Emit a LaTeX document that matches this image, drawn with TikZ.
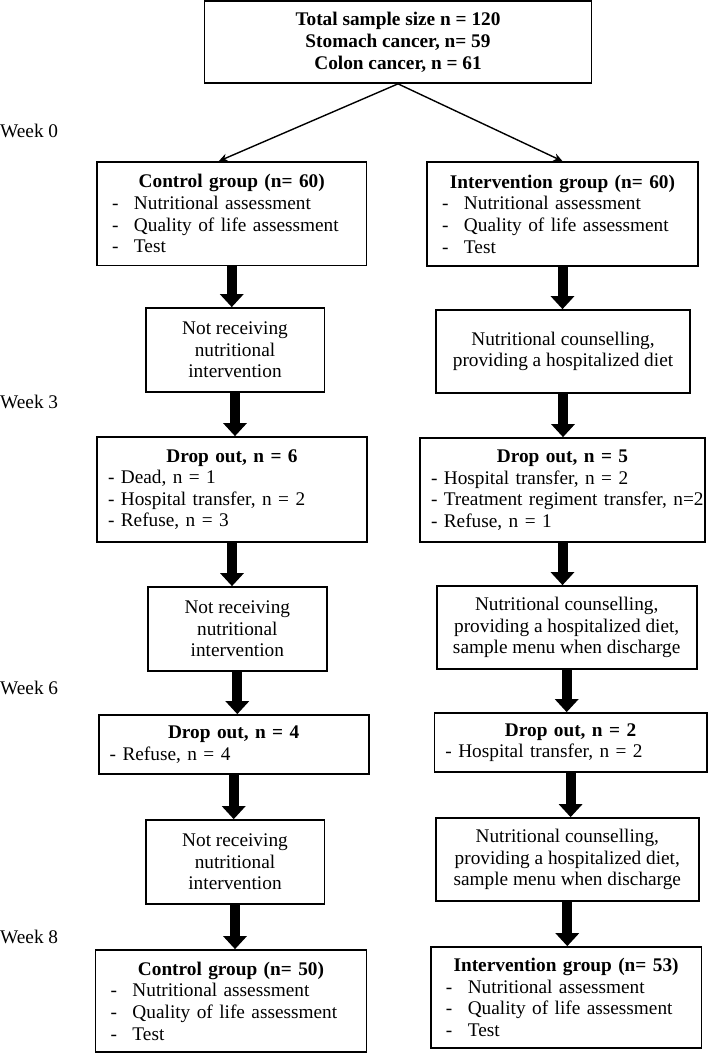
\documentclass[tikz,border=0pt]{standalone}
\usepackage{fontspec}
\setmainfont{Liberation Serif}
\usetikzlibrary{arrows.meta}
\newcommand{\btitle}[1]{{\noindent\centering\bfseries #1\par}}
\newcommand{\bitem}[1]{{\leftskip=15pt\noindent\makebox[22pt][l]{-}#1\par}}
\newcommand{\ditem}[1]{{\leftskip=11pt\noindent - #1\par}}
\tikzset{
  basebox/.style={draw, line width=1.7pt, inner sep=0pt, font=\fontsize{19.3}{21.6}\selectfont},
  listbox/.style={basebox, text width=#1pt, minimum width=#1pt},
  cbox/.style={basebox, align=center, minimum width=#1pt},
  thinarrow/.style={line width=1.4pt, -{Stealth[length=9pt,width=8pt]}},
  fatarrow/.style={line width=10pt, -{Triangle[length=13pt,width=23pt]}},
  weeklabel/.style={anchor=west, inner sep=0pt, font=\fontsize{19.3}{21.6}\selectfont},
}
\begin{document}
\begin{tikzpicture}[x=1pt, y=-1pt]
\useasboundingbox (0,0) rectangle (709,1054);

% top box
\node[cbox=387, minimum height=82pt, font=\fontsize{19.3}{21.8}\selectfont\bfseries] (top) at (398,42)
  {Total sample size n = 120\\Stomach cancer, n= 59\\Colon cancer, n = 61};

% week labels
\node[weeklabel] (w0) at (0,131) {Week 0};
\node[weeklabel] (w3) at (0,402) {Week 3};
\node[weeklabel] (w6) at (0,688) {Week 6};
\node[weeklabel] (w8) at (0,937) {Week 8};

% week 0 groups
\node[listbox=269.5, minimum height=103.5pt] (ctrl0) at (231.75,213.75)
  {\btitle{Control group (n= 60)}\bitem{Nutritional assessment}\bitem{Quality of life assessment}\bitem{Test}};
\node[listbox=271, minimum height=104pt] (int0) at (562.5,214)
  {\btitle{Intervention group (n= 60)}\bitem{Nutritional assessment}\bitem{Quality of life assessment}\bitem{Test}};

% first interventions
\node[cbox=178.7, minimum height=84pt] (nr1) at (235,350)
  {Not receiving\\nutritional\\intervention};
\node[cbox=254, minimum height=83pt] (nc1) at (563,351.5)
  {Nutritional counselling,\\providing a hospitalized diet};

% drop out week 3
\node[listbox=270, minimum height=105pt] (dl1) at (232,489.5)
  {\btitle{Drop out, n = 6}\ditem{Dead, n = 1}\ditem{Hospital transfer, n = 2}\ditem{Refuse, n = 3}};
\node[listbox=285, minimum height=104pt] (dr1) at (562.5,490)
  {\btitle{Drop out, n = 5}\ditem{Hospital transfer, n = 2}\ditem{Treatment regiment transfer, n=2}\ditem{Refuse, n = 1}};

% second interventions
\node[cbox=178.7, minimum height=84pt] (nr2) at (237.3,629)
  {Not receiving\\nutritional\\intervention};
\node[cbox=260, minimum height=83pt] (nc2) at (566.7,627.5)
  {Nutritional counselling,\\providing a hospitalized diet,\\sample menu when discharge};

% drop out week 6
\node[listbox=270, minimum height=59pt] (dl2) at (233.7,744.5)
  {\btitle{Drop out, n = 4}\ditem{Refuse, n = 4}};
\node[listbox=272.4, minimum height=59pt] (dr2) at (570.6,742.5)
  {\btitle{Drop out, n = 2}\ditem{Hospital transfer, n = 2}};

% third interventions
\node[cbox=178.7, minimum height=84pt] (nr3) at (235,862)
  {Not receiving\\nutritional\\intervention};
\node[cbox=263.3, minimum height=83pt] (nc3) at (567.3,859.5)
  {Nutritional counselling,\\providing a hospitalized diet,\\sample menu when discharge};

% final groups
\node[listbox=271, minimum height=102pt] (fl) at (231,1001)
  {\btitle{Control group (n= 50)}\bitem{Nutritional assessment}\bitem{Quality of life assessment}\bitem{Test}};
\node[listbox=270.6, minimum height=101pt] (fr) at (566.1,997.5)
  {\btitle{Intervention group (n= 53)}\bitem{Nutritional assessment}\bitem{Quality of life assessment}\bitem{Test}};

% connectors
\draw[thinarrow] (top.south) -- ([xshift=-13pt]ctrl0.north);
\draw[thinarrow] (top.south) -- (int0.north);

\draw[fatarrow] (ctrl0.south) -- (ctrl0.south |- nr1.north);
\draw[fatarrow] (nr1.south) -- (nr1.south |- dl1.north);
\draw[fatarrow] (dl1.south) -- (dl1.south |- nr2.north);
\draw[fatarrow] (nr2.south) -- (nr2.south |- dl2.north);
\draw[fatarrow] (dl2.south) -- (dl2.south |- nr3.north);
\draw[fatarrow] (nr3.south) -- (nr3.south |- fl.north);

\draw[fatarrow] (int0.south) -- (int0.south |- nc1.north);
\draw[fatarrow] (nc1.south) -- (nc1.south |- dr1.north);
\draw[fatarrow] (dr1.south) -- (dr1.south |- nc2.north);
\draw[fatarrow] (nc2.south) -- (nc2.south |- dr2.north);
\draw[fatarrow] (dr2.south) -- (dr2.south |- nc3.north);
\draw[fatarrow] (nc3.south) -- (nc3.south |- fr.north);
\end{tikzpicture}
\end{document}
